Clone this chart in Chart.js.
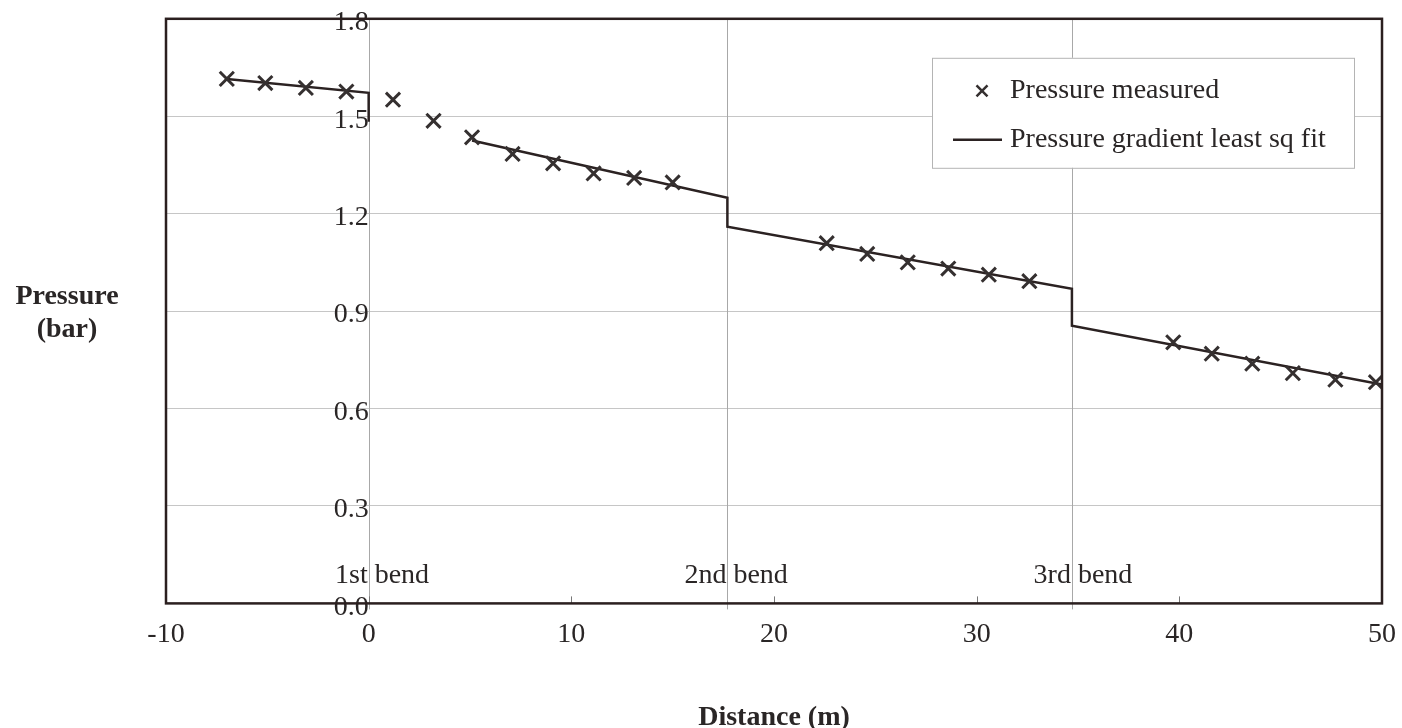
<!DOCTYPE html>
<html>
<head>
<meta charset="utf-8">
<title>Pressure along pipe</title>
<script src="https://cdn.jsdelivr.net/npm/chart.js@4.4.1/dist/chart.umd.min.js"></script>
<style>
  html, body { margin: 0; padding: 0; background: #fff; }
  canvas { display: block; }
</style>
</head>
<body>
<canvas id="pressureChart" width="1402" height="728"></canvas>
<script>
// measured pressures along the pipe (distance in m, pressure in bar)
const measuredX = [-7.0, -5.1, -3.1, -1.1, 1.2, 3.2, 5.1, 7.1, 9.1, 11.1, 13.1, 15.0,
                   22.6, 24.6, 26.6, 28.6, 30.6, 32.6, 39.7, 41.6, 43.6, 45.6, 47.7, 49.7];
const measuredP = [1.615, 1.602, 1.587, 1.576, 1.551, 1.486, 1.435, 1.384, 1.355, 1.324, 1.310, 1.296,
                   1.109, 1.076, 1.050, 1.031, 1.012, 0.992, 0.804, 0.769, 0.738, 0.709, 0.689, 0.681];

// least squares fit, one straight run between bends (null breaks the line)
const fitX = [-7.0, 0, 0, 2.0, 5.1, 17.7, 17.7, 34.7, 34.7, 50];
const fitP = [1.615, 1.572, 1.483, null, 1.425, 1.249, 1.160, 0.969, 0.855, 0.674];

const bendX = [0, 17.7, 34.7];
const bendOrdinals = ['1st', '2nd', '3rd'];

const xTicks = [-10, 0, 10, 20, 30, 40, 50];
const yTicks = [0.0, 0.3, 0.6, 0.9, 1.2, 1.5, 1.8];

const serif = "'Liberation Serif', 'Times New Roman', serif";
const fontSize = 28;
const textColor = '#2a2626';
const frameColor = '#2b1f1f';

const measured = measuredX.map((x, i) => ({ x: x, y: measuredP[i] }));
const fit = fitX.map((x, i) => ({ x: x, y: fitP[i] }));

// bend gridlines, inner ticks, frame, labels and legend
const decorations = {
    id: 'decorations',
    beforeDatasetsDraw(chart) {
        const { ctx, chartArea: a, scales: { x } } = chart;
        ctx.save();
        ctx.strokeStyle = '#a8a8a8';
        ctx.lineWidth = 1;
        bendX.forEach(b => {
            const px = Math.round(x.getPixelForValue(b)) + 0.5;
            ctx.beginPath();
            ctx.moveTo(px, a.top);
            ctx.lineTo(px, a.bottom + 6);
            ctx.stroke();
        });
        ctx.strokeStyle = '#777';
        xTicks.forEach(t => {
            const px = Math.round(x.getPixelForValue(t)) + 0.5;
            ctx.beginPath();
            ctx.moveTo(px, a.bottom);
            ctx.lineTo(px, a.bottom - 7);
            ctx.stroke();
        });
        ctx.restore();
    },
    afterDraw(chart) {
        const { ctx, chartArea: a, scales: { x, y } } = chart;
        ctx.save();

        // plot frame
        ctx.strokeStyle = frameColor;
        ctx.lineWidth = 2.5;
        ctx.strokeRect(a.left, a.top, a.right - a.left, a.bottom - a.top);

        // bend labels, ordinal ends at the bend line
        ctx.font = fontSize + 'px ' + serif;
        ctx.fillStyle = textColor;
        ctx.textBaseline = 'middle';
        const ly = y.getPixelForValue(0) - 28;
        bendX.forEach((b, i) => {
            const px = x.getPixelForValue(b);
            const w = ctx.measureText(bendOrdinals[i]).width;
            ctx.textAlign = 'left';
            ctx.fillText(bendOrdinals[i], px - w - 1, ly);
            ctx.fillText('bend', px + 6, ly);
        });

        // y axis title, horizontal
        ctx.font = 'bold ' + fontSize + 'px ' + serif;
        ctx.textAlign = 'center';
        ctx.fillText('Pressure', 67, 297);
        ctx.fillText('(bar)', 67, 330);

        // legend box
        const ds = chart.data.datasets;
        const bx = a.right - 450, by = a.top + 39, bw = 422, bh = 110;
        ctx.fillStyle = '#fff';
        ctx.fillRect(bx, by, bw, bh);
        ctx.strokeStyle = '#b4b4b4';
        ctx.lineWidth = 1;
        ctx.strokeRect(bx + 0.5, by + 0.5, bw, bh);

        const r1 = by + 33, r2 = by + 82;
        ctx.strokeStyle = ds[0].borderColor;
        ctx.lineWidth = 2.5;
        const mx = bx + 50, s = 5.5;
        ctx.beginPath();
        ctx.moveTo(mx - s, r1 - s); ctx.lineTo(mx + s, r1 + s);
        ctx.moveTo(mx + s, r1 - s); ctx.lineTo(mx - s, r1 + s);
        ctx.stroke();

        ctx.strokeStyle = ds[1].borderColor;
        ctx.lineWidth = ds[1].borderWidth;
        ctx.beginPath();
        ctx.moveTo(bx + 21, r2);
        ctx.lineTo(bx + 70, r2);
        ctx.stroke();

        ctx.font = fontSize + 'px ' + serif;
        ctx.fillStyle = textColor;
        ctx.textAlign = 'left';
        ctx.fillText(ds[0].label, bx + 78, r1);
        ctx.fillText(ds[1].label, bx + 78, r2);
        ctx.restore();
    }
};

new Chart(document.getElementById('pressureChart'), {
    type: 'scatter',
    data: {
        datasets: [{
            label: 'Pressure measured',
            data: measured,
            pointStyle: 'crossRot',
            pointRadius: 10,
            pointBorderWidth: 3,
            borderColor: '#353030',
            backgroundColor: '#353030',
            showLine: false
        }, {
            label: 'Pressure gradient least sq fit',
            data: fit,
            showLine: true,
            spanGaps: false,
            pointRadius: 0,
            borderColor: '#2b2222',
            borderWidth: 2.5
        }]
    },
    options: {
        responsive: false,
        animation: false,
        layout: { padding: { left: 166, right: 20, top: 18, bottom: 0 } },
        plugins: {
            legend: { display: false },
            tooltip: { enabled: false }
        },
        scales: {
            x: {
                type: 'linear',
                min: -10,
                max: 50,
                afterBuildTicks: axis => { axis.ticks = xTicks.map(v => ({ value: v })); },
                // end labels may hang over the padding
                afterFit: axis => { axis.paddingLeft = 0; axis.paddingRight = 0; },
                ticks: { padding: 14, color: textColor, font: { family: serif, size: fontSize } },
                grid: { display: false, drawTicks: false },
                border: { display: false },
                title: {
                    display: true,
                    text: 'Distance (m)',
                    color: textColor,
                    font: { family: serif, size: fontSize, weight: 'bold', lineHeight: 1 },
                    padding: { top: 39, bottom: -4 }
                }
            },
            y: {
                min: 0,
                max: 1.8,
                afterBuildTicks: axis => { axis.ticks = yTicks.map(v => ({ value: v })); },
                ticks: { display: false },
                grid: { color: '#c6c6c6', lineWidth: 1, drawTicks: false },
                border: { display: false }
            },
            yLabels: {
                axis: 'y',
                position: { x: 0 },
                min: 0,
                max: 1.8,
                afterBuildTicks: axis => { axis.ticks = yTicks.map(v => ({ value: v })); },
                ticks: {
                    padding: 2,
                    labelOffset: 4,
                    color: textColor,
                    font: { family: serif, size: fontSize },
                    callback: v => v.toFixed(1)
                },
                grid: { display: false, drawTicks: false },
                border: { display: false }
            }
        }
    },
    plugins: [decorations]
});
</script>
</body>
</html>
